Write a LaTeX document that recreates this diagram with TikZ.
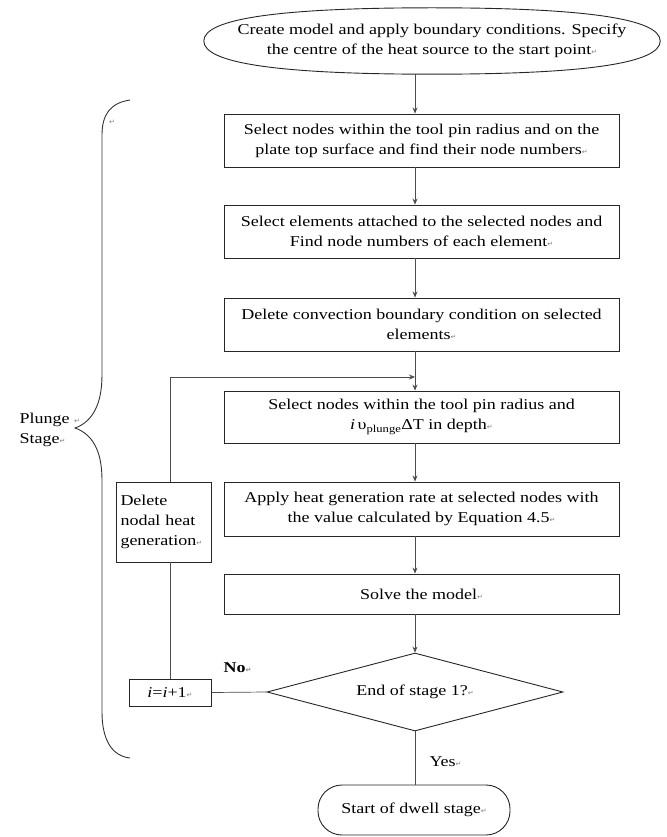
\documentclass[tikz,border=0pt]{standalone}
\usepackage{fontspec}
\setmainfont{Liberation Serif}[FakeStretch=1.2]
\newfontfamily\pmfont{DejaVu Sans}
\usetikzlibrary{shapes.geometric,arrows.meta}

% Word-style paragraph mark
\newcommand\parmark{{\pmfont\fontsize{7}{7}\selectfont\color{black!50}↵}}

\tikzset{
  txt/.style={font=\fontsize{15}{20}\selectfont, text=black},
  stepbox/.style={txt, draw=black!85, line width=0.9pt, rectangle,
    minimum width=395pt, inner sep=0pt, align=center},
  link/.style={draw=black!70, line width=0.7pt},
  arr/.style={link, -{Stealth[length=6pt,width=5pt]}},
}

\begin{document}
\begin{tikzpicture}[x=1pt,y=-1pt]
\useasboundingbox (0,0) rectangle (666,837);

% start terminal: text node plus a full-bodied oval outline
\node[txt, ellipse, minimum width=456pt, minimum height=66pt,
      inner xsep=-70pt, inner ysep=-12pt, align=center]
  (top) at (432,41)
  {Create model and apply boundary conditions. Specify\\
   the centre of the heat source to the start point\parmark};
\draw[black!85, line width=0.9pt]
  (top.north) .. controls +(155,0) and +(0,-22) .. (top.east)
  .. controls +(0,22) and +(155,0) .. (top.south)
  .. controls +(-155,0) and +(0,22) .. (top.west)
  .. controls +(0,-22) and +(-155,0) .. (top.north) -- cycle;

% main column of process steps
\node[stepbox, minimum height=53pt] (b1) at (421.5,140.5)
  {Select nodes within the tool pin radius and on the\\
   plate top surface and find their node numbers\parmark};
\node[stepbox, minimum height=53pt] (b2) at (421.5,231.5)
  {Select elements attached to the selected nodes and\\
   Find node numbers of each element\parmark};
\node[stepbox, minimum height=53pt] (b3) at (421.5,324.5)
  {Delete convection boundary condition on selected\\
   elements\parmark};
\node[stepbox, minimum height=52pt] (b4) at (421.5,417)
  {Select nodes within the tool pin radius and\\
   \textit{i}\,υ\textsubscript{plunge}ΔT in depth\parmark};
\node[stepbox, minimum height=54pt] (b5) at (421.5,509)
  {Apply heat generation rate at selected nodes with\\
   the value calculated by Equation 4.5\parmark};
\node[stepbox, minimum height=40pt] (b6) at (421.5,594)
  {Solve the model\parmark};

\node[txt, draw=black!85, line width=0.9pt, diamond, aspect=3.8,
      minimum width=296pt, minimum height=78pt, inner sep=0pt] (dec) at (415,692)
  {End of stage 1?\parmark};

\node[txt, draw=black!85, line width=0.9pt, rectangle, rounded corners=24pt,
      minimum width=192pt, minimum height=50pt, inner sep=0pt] (end) at (414,810)
  {Start of dwell stage\parmark};

% loop-back branch
\node[txt, draw=black!85, line width=0.9pt, rectangle, minimum width=82pt,
      minimum height=27pt, inner sep=0pt] (inc) at (170,692.5)
  {\textit{i}=\textit{i}+1\parmark};
\node[txt, draw=black!85, line width=0.9pt, rectangle, minimum width=95pt,
      minimum height=80pt, inner sep=0pt, align=left, text width=86pt]
  (del) at (163.5,522)
  {Delete\\ nodal heat\\ generation\parmark};

\coordinate (col) at (415,0);
\coordinate (merge) at (415,377);
\coordinate (loopx) at (170,0);

% main flow
\draw[arr] (top.south -| col) -- (b1.north -| col);
\draw[arr] (b1.south -| col) -- (b2.north -| col);
\draw[arr] (b2.south -| col) -- (b3.north -| col);
\draw[arr] (b3.south -| col) -- (b4.north -| col);
\draw[arr] (b4.south -| col) -- (b5.north -| col);
\draw[arr] (b5.south -| col) -- (b6.north -| col);
\draw[arr] (b6.south -| col) -- (dec.north);
\draw[link] (dec.south) -- (end.north -| dec.south);

% loop back
\draw[link] (dec.west) -- (inc.east);
\draw[link] (inc.north -| loopx) -- (del.south -| loopx);
\draw[arr] (del.north -| loopx) |- (merge);

% branch labels
\node[txt, anchor=west, font=\fontsize{15}{20}\selectfont\bfseries] (no) at (220,668) {No\parmark};
\node[txt, anchor=west] (yes) at (426,762) {Yes\parmark};

% brace for the plunge stage
\draw[black!80, line width=0.9pt]
  (130,100) .. controls (110,103) and (102,115) .. (102,135)
  -- (102,375) .. controls (102,405) and (92,422) .. (75,428)
  .. controls (92,434) and (102,450) .. (102,480)
  -- (102,712) .. controls (102,740) and (112,756) .. (130,758);
\node (bm) at (112,122) {\parmark};
\node[txt, anchor=west, align=left] (stage) at (16,430)
  {Plunge \parmark\\ Stage\parmark};
\end{tikzpicture}
\end{document}
